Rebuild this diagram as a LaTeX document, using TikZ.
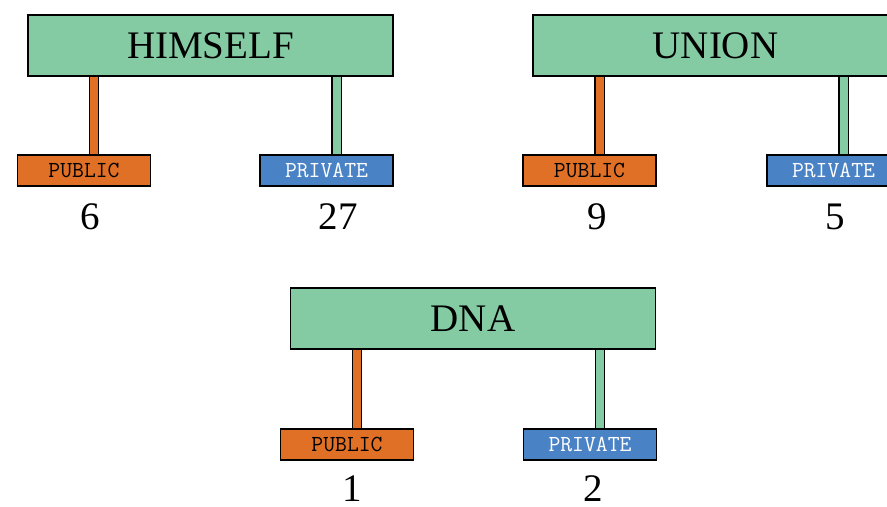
\documentclass[tikz,border=0pt]{standalone}
\usepackage{fontspec}
\setmainfont{Liberation Serif}
\usetikzlibrary{positioning}
\definecolor{boxgreen}{RGB}{132, 203, 164}
\definecolor{puborange}{RGB}{224, 112, 38}
\definecolor{privblue}{RGB}{74, 130, 198}

\begin{document}
\begin{tikzpicture}[x=0.5pt, y=-0.5pt,
    classbox/.style={draw, line width=0.6pt, fill=boxgreen, minimum width=182.5pt,
        minimum height=30.5pt, inner sep=0pt, font=\fontsize{19.5}{22}\selectfont},
    pubbox/.style={draw, line width=0.6pt, fill=puborange, minimum width=66.5pt,
        minimum height=15.5pt, inner sep=0pt, font=\fontsize{11.5}{13}\selectfont\ttfamily},
    privbox/.style={pubbox, fill=privblue, text=white},
    pubstem/.style={draw=black, line width=0.6pt, double=puborange, double distance=4pt},
    privstem/.style={pubstem, double=boxgreen},
    countlabel/.style={font=\fontsize{19.5}{22}\selectfont, inner sep=1pt}]
                    \clip (0,0) rectangle (887,507);

                    % HIMSELF
                    \node[classbox] (himself) at (210.5,45.5) {HIMSELF};
                    \node[pubbox] (himpub) at (84,170.5) {PUBLIC};
                    \node[privbox] (himpriv) at (326.5,170.5) {PRIVATE};
                    \draw[pubstem] ([xshift=5pt]himpub.north) -- ([xshift=5pt]himpub.north |- himself.south);
                    \draw[privstem] ([xshift=5pt]himpriv.north) -- ([xshift=5pt]himpriv.north |- himself.south);
                    \node[countlabel] (himpubn) at (90,217) {6};
                    \node[countlabel] (himprivn) at (338,217) {27};

                    % UNION
                    \node[classbox] (union) at (715.5,45.5) {UNION};
                    \node[pubbox] (unipub) at (589.5,170.5) {PUBLIC};
                    \node[privbox] (unipriv) at (833.5,170.5) {PRIVATE};
                    \draw[pubstem] ([xshift=5pt]unipub.north) -- ([xshift=5pt]unipub.north |- union.south);
                    \draw[privstem] ([xshift=5pt]unipriv.north) -- ([xshift=5pt]unipriv.north |- union.south);
                    \node[countlabel] (unipubn) at (597,217) {9};
                    \node[countlabel] (uniprivn) at (835,217) {5};

                    % DNA
                    \node[classbox] (dna) at (473,318.5) {DNA};
                    \node[pubbox] (dnapub) at (347,444.5) {PUBLIC};
                    \node[privbox] (dnapriv) at (590,444.5) {PRIVATE};
                    \draw[pubstem] ([xshift=5pt]dnapub.north) -- ([xshift=5pt]dnapub.north |- dna.south);
                    \draw[privstem] ([xshift=5pt]dnapriv.north) -- ([xshift=5pt]dnapriv.north |- dna.south);
                    \node[countlabel] (dnapubn) at (352,489) {1};
                    \node[countlabel] (dnaprivn) at (593,489) {2};
\end{tikzpicture}
\end{document}
